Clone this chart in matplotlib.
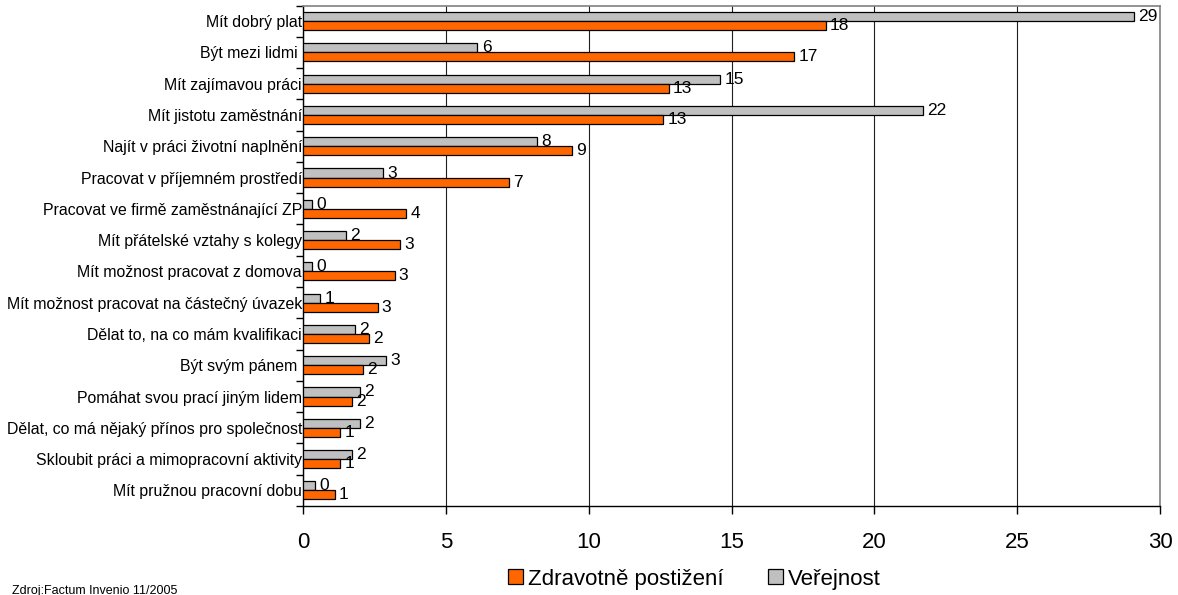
import matplotlib
matplotlib.use("Agg")
import matplotlib.pyplot as plt
import numpy as np
from matplotlib.patches import Patch

plt.rcParams['font.family'] = ['Liberation Sans', 'DejaVu Sans']

categories = [
    "Mít dobrý plat",
    "Být mezi lidmi ",
    "Mít zajímavou práci",
    "Mít jistotu zaměstnání",
    "Najít v práci životní naplnění",
    "Pracovat v příjemném prostředí",
    "Pracovat ve firmě zaměstnánající ZP",
    "Mít přátelské vztahy s kolegy",
    "Mít možnost pracovat z domova",
    "Mít možnost pracovat na částečný úvazek",
    "Dělat to, na co mám kvalifikaci",
    "Být svým pánem ",
    "Pomáhat svou prací jiným lidem",
    "Dělat, co má nějaký přínos pro společnost",
    "Skloubit práci a mimopracovní aktivity",
    "Mít pružnou pracovní dobu",
]
zdravotne = [18.3, 17.2, 12.8, 12.6, 9.4, 7.2, 3.6, 3.4, 3.2, 2.6, 2.3, 2.1, 1.7, 1.3, 1.3, 1.1]
verejnost = [29.1, 6.1, 14.6, 21.7, 8.2, 2.8, 0.3, 1.5, 0.3, 0.6, 1.8, 2.9, 2.0, 2.0, 1.7, 0.4]
series_names = ["Zdravotně postižení", "Veřejnost"]
xticks = [0, 5, 10, 15, 20, 25, 30]

W, H = 1178, 595
fig = plt.figure(figsize=(W / 100, H / 100), dpi=100)
left, right, top, bottom = 303.3, 1160, 5.5, 506
ax = fig.add_axes([left / W, 1 - bottom / H, (right - left) / W, (bottom - top) / H])

orange = "#FF6600"
gray = "#C0C0C0"
y = np.arange(len(categories))
h = 0.29

b_gray = ax.barh(y - h / 2, verejnost, height=h, color=gray, edgecolor="black", linewidth=0.9, zorder=3)
b_or = ax.barh(y + h / 2, zdravotne, height=h, color=orange, edgecolor="black", linewidth=0.9, zorder=3)

ax.bar_label(b_gray, fmt="%.0f", padding=3, fontsize=12.5)
ax.bar_label(b_or, fmt="%.0f", padding=3, fontsize=12.5)

ax.set_xlim(0, 30)
ax.set_ylim(len(categories) - 0.5, -0.5)
ax.set_xticks(xticks)
ax.set_xticklabels([str(t) for t in xticks], fontsize=16)
ax.tick_params(axis="x", length=6, width=1, pad=13, direction="out")

ax.set_yticks(y)
ax.set_yticklabels(categories, fontsize=11.4)
ax.tick_params(axis="y", which="major", length=0, pad=1)
ax.set_yticks(np.arange(-0.5, len(categories), 1.0), minor=True)
ax.tick_params(axis="y", which="minor", length=5, width=1, direction="out")

ax.grid(axis="x", color="#202020", linewidth=0.8, zorder=0)
ax.set_axisbelow(True)
for s in ["top", "right"]:
    ax.spines[s].set_color("#808080")
    ax.spines[s].set_linewidth(1.2)
for s in ["left", "bottom"]:
    ax.spines[s].set_color("black")
    ax.spines[s].set_linewidth(1.0)

handles = [Patch(facecolor=orange, edgecolor="black", linewidth=0.9),
           Patch(facecolor=gray, edgecolor="black", linewidth=0.9)]
fig.legend(handles, series_names, loc="center", bbox_to_anchor=(694 / W, 1 - 579 / H),
           ncol=2, frameon=False, fontsize=16, handlelength=0.68, handleheight=0.68,
           handletextpad=0.22, columnspacing=2.0, borderpad=0)

fig.text(12 / W, 1 / H, "Zdroj:Factum Invenio 11/2005", fontsize=9, ha="left", va="baseline")

fig.savefig("out.png", dpi=100)
